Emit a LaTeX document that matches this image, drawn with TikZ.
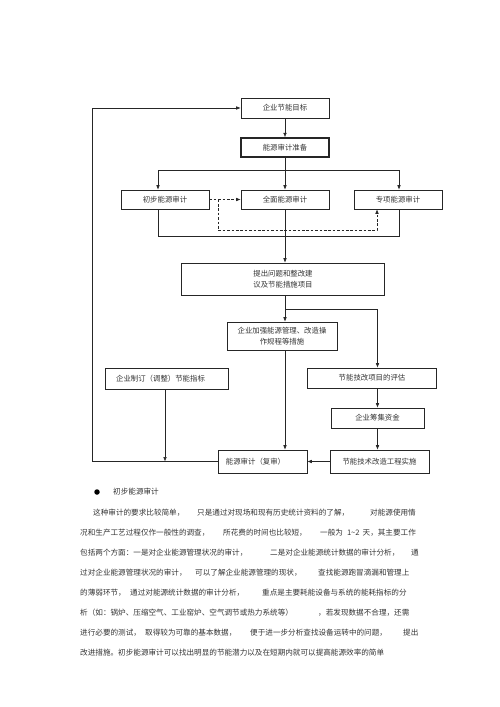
\documentclass[tikz,border=0pt]{standalone}
\usepackage{fontspec}
\newfontfamily\cjk{Noto Sans CJK SC}
\usepackage{xcolor}
\usepackage{tikz}
\usetikzlibrary{positioning,arrows.meta}

\tikzset{
  box/.style={draw=black!85, line width=0.6pt, inner sep=0pt, align=center,
    font=\cjk\fontsize{7.4}{11.5}\selectfont, text=black!80},
  flow/.style={draw=black!85, line width=0.6pt, -{Latex[length=4.5pt,width=3.6pt]}},
  link/.style={draw=black!85, line width=0.6pt},
  hint/.style={draw=black!85, line width=0.6pt, dash pattern=on 2.6pt off 1.8pt},
  para/.style={anchor=west, inner sep=0pt, font=\cjk\fontsize{7.6}{9}\selectfont, text=black!80},
}

\begin{document}
\begin{tikzpicture}[x=1pt, y=-1pt]
  \useasboundingbox (0,0) rectangle (500,707);

  % Flow chart boxes
  \node[box, minimum width=88pt, minimum height=20pt] (goal) at (285,108) {企业节能目标};
  \node[box, line width=1.4pt, minimum width=88pt, minimum height=19pt] (prep) at (285,147.5) {能源审计准备};
  \node[box, minimum width=88pt, minimum height=19pt] (prelim) at (165,199.5) {初步能源审计};
  \node[box, minimum width=88pt, minimum height=19pt] (full) at (285,199.5) {全面能源审计};
  \node[box, minimum width=88pt, minimum height=19pt] (special) at (398,199.5) {专项能源审计};
  \node[box, minimum width=203pt, minimum height=32pt] (issue) at (283,279) {提出问题和整改建\\议及节能措施项目};
  \node[box, minimum width=110pt, minimum height=28pt] (manage) at (282,336) {企业加强能源管理、改造操\\作规程等措施};
  \node[box, minimum width=123pt, minimum height=21pt] (target) at (166.5,378.5) {\hspace*{-12pt}企业制订（调整）节能指标};
  \node[box, minimum width=129pt, minimum height=20pt] (assess) at (372,378) {节能技改项目的评估};
  \node[box, minimum width=93pt, minimum height=20pt] (fund) at (377.5,418) {企业筹集资金};
  \node[box, minimum width=99pt, minimum height=23pt] (impl) at (379.5,461.5) {节能技术改造工程实施};
  \node[box, minimum width=89pt, minimum height=23pt] (review) at (262.5,461.5) {\hspace*{-14pt}能源审计（复审）};

  % Helper points of the connectors
  \coordinate (splitL) at (158,170);
  \coordinate (splitR) at (399,170);
  \coordinate (joinL) at (158,236);
  \coordinate (joinR) at (399,236);
  \coordinate (dashfork) at (218,199.5);
  \coordinate (dashturn) at (377,230);
  \coordinate (branch) at (285,309);
  \coordinate (loopcorner) at (92,461.5);

  % Connectors
  \draw[flow] (goal) -- (prep);
  \draw[flow] (prep) -- (full);
  \draw[link] (splitL) -- (splitR);
  \draw[flow] (splitL) -- (splitL |- prelim.north);
  \draw[flow] (splitR) -- (splitR |- special.north);
  \draw[hint, -{Latex[length=4.5pt,width=3.6pt]}] (prelim.east) -- (full.west);
  \draw[hint, -{Latex[length=4.5pt,width=3.6pt]}] (dashfork) |- (dashturn) -- (dashturn |- special.south);
  \draw[link] (joinL |- prelim.south) -- (joinL) -- (joinR) -- (joinR |- special.south);
  \draw[flow] (full.south) -- (full.south |- issue.north);
  \draw[flow] (issue.south -| full.south) -- (manage.north -| full.south);
  \draw[flow] (branch) -| (assess.north -| fund.north);
  \draw[flow] (assess.south -| fund.north) -- (fund.north);
  \draw[flow] (fund.south) -- (fund.south |- impl.north);
  \draw[flow] (impl.west) -- (review.east);
  \draw[flow] (manage.south -| full.south) -- (review.north -| full.south);
  \draw[flow] (target.south -| 165,0) -- (loopcorner -| 165,0);
  \draw[flow] (review.west) -- (loopcorner) |- (goal.west);

  % Text below the chart
  \node[circle, fill=black, inner sep=0pt, minimum size=5.5pt] (bullet) at (97,492) {};
  \node[para] (h1) at (113,492) {初步能源审计};
  \node[para] (l2a) at (93,513) {这种审计的要求比较简单，};
  \node[para] (l2b) at (197,513) {只是通过对现场和现有历史统计资料的了解，};
  \node[para] (l2c) at (370,513) {对能源使用情};
  \node[para] (l3a) at (80,533) {况和生产工艺过程仅作一般性的调查，};
  \node[para] (l3b) at (223,533) {所花费的时间也比较短，};
  \node[para] (l3c) at (320,533) {一般为\hspace{4pt}1\textasciitilde 2\hspace{3pt}天，其主要工作};
  \node[para] (l4a) at (80,553) {包括两个方面：一是对企业能源管理状况的审计，};
  \node[para] (l4b) at (270,553) {二是对企业能源统计数据的审计分析，};
  \node[para] (l4c) at (411,553) {通};
  \node[para] (l5a) at (80,573) {过对企业能源管理状况的审计，};
  \node[para] (l5b) at (195,573) {可以了解企业能源管理的现状，};
  \node[para] (l5c) at (318,573) {查找能源跑冒滴漏和管理上};
  \node[para] (l6a) at (80,593) {的薄弱环节，};
  \node[para] (l6b) at (130,593) {通过对能源统计数据的审计分析，};
  \node[para] (l6c) at (262,593) {重点是主要耗能设备与系统的能耗指标的分};
  \node[para] (l7a) at (80,613) {析（如：锅炉、压缩空气、工业窑炉、空气调节或热力系统等）};
  \node[para] (l7b) at (318,613) {，若发现数据不合理，还需};
  \node[para] (l8a) at (80,633) {进行必要的测试，};
  \node[para] (l8b) at (145,633) {取得较为可靠的基本数据，};
  \node[para] (l8c) at (250,633) {便于进一步分析查找设备运转中的问题，};
  \node[para] (l8d) at (403,633) {提出};
  \node[para] (l9a) at (80,653) {改进措施。初步能源审计可以找出明显的节能潜力以及在短期内就可以提高能源效率的简单};
\end{tikzpicture}
\end{document}
